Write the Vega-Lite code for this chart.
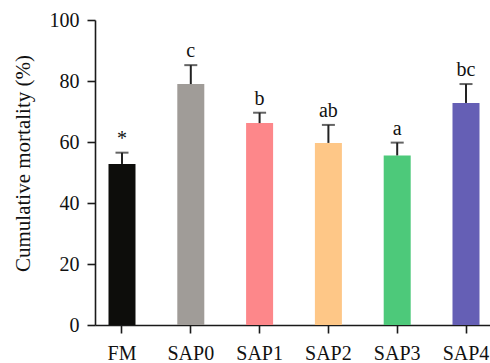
{
  "$schema": "https://vega.github.io/schema/vega-lite/v6.json",
  "autosize": {"type": "none"},
  "padding": {"left": 95, "top": 20, "right": 0, "bottom": 38},
  "width": 395,
  "height": 305,
  "background": "white",
  "config": {
    "view": {"stroke": null},
    "font": "Liberation Serif",
    "axis": {"domainColor": "#1a1a1a", "domainWidth": 1.6, "tickColor": "#1a1a1a", "tickWidth": 1.6, "tickSize": 8, "labelFont": "Liberation Serif", "labelFontSize": 20, "labelColor": "#111", "titleFont": "Liberation Serif", "titleFontSize": 21, "titleFontWeight": "normal", "titleColor": "#111", "grid": false}
  },
  "data": {
    "values": [
      {"group": "FM", "value": 52.8, "err": 56.5, "label": "*", "color": "#0d0d0b"},
      {"group": "SAP0", "value": 79.0, "err": 85.2, "label": "c", "color": "#a09c98"},
      {"group": "SAP1", "value": 66.2, "err": 69.6, "label": "b", "color": "#fd878a"},
      {"group": "SAP2", "value": 59.7, "err": 65.6, "label": "ab", "color": "#fec787"},
      {"group": "SAP3", "value": 55.6, "err": 59.8, "label": "a", "color": "#4dc97a"},
      {"group": "SAP4", "value": 72.8, "err": 79.0, "label": "bc", "color": "#655fb5"}
    ]
  },
  "encoding": {
    "x": {
      "field": "group", "type": "nominal", "sort": null,
      "scale": {"paddingInner": 0.6076, "paddingOuter": 0.1744, "align": 0.5625},
      "axis": {"title": null, "labelAngle": 0, "labelPadding": 10, "labelBaseline": "top"}
    }
  },
  "layer": [
    {
      "mark": {"type": "bar"},
      "encoding": {
        "y": {"field": "value", "type": "quantitative", "scale": {"domain": [0, 100], "nice": false},
          "axis": {"title": "Cumulative mortality (%)", "values": [0, 20, 40, 60, 80, 100], "labelPadding": 8, "titlePadding": 16, "titleY": 143}},
        "color": {"field": "color", "type": "nominal", "scale": null}
      }
    },
    {
      "mark": {"type": "rule", "color": "#222", "strokeWidth": 2},
      "encoding": {
        "y": {"field": "value", "type": "quantitative"},
        "y2": {"field": "err"}
      }
    },
    {
      "mark": {"type": "tick", "color": "#222", "thickness": 2, "size": 13, "orient": "horizontal"},
      "encoding": {
        "y": {"field": "err", "type": "quantitative"}
      }
    },
    {
      "mark": {"type": "text", "fontSize": 20, "baseline": "alphabetic", "dy": -8, "color": "#111"},
      "encoding": {
        "y": {"field": "err", "type": "quantitative"},
        "text": {"field": "label"}
      }
    }
  ]
}
